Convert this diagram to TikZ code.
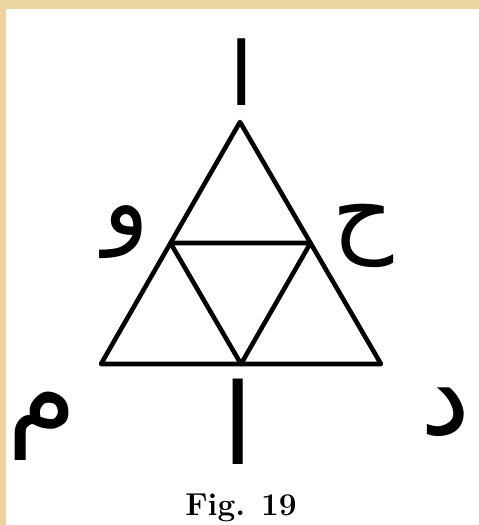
\documentclass[tikz,border=0pt]{standalone}
\usepackage{fontspec}
\newfontfamily\arabicfont[Script=Arabic]{DejaVu Sans}
\TeXXeTstate=1
\usetikzlibrary{positioning,calc}
\definecolor{paper}{RGB}{236,212,160}

\begin{document}
\begin{tikzpicture}[x=0.02cm, y=-0.02cm, line width=2.6pt, line join=round,
  letter/.style={font=\arabicfont\fontsize{54}{56}\selectfont, inner sep=0pt},
  bigletter/.style={font=\arabicfont\fontsize{64}{66}\selectfont, inner sep=0pt}]
  \useasboundingbox (0,0) rectangle (479,525);
  %% ── Page edge ──────────────────────────────
  \fill[paper] (0,0) rectangle (479,9);
  \fill[paper] (0,0) rectangle (6,525);

  %% ── Triangle and inner triangle ───────────
  \coordinate (apex) at (240,122);
  \coordinate (baseL) at (101,364);
  \coordinate (baseR) at (381,364);
  \coordinate (midL) at ($(apex)!0.5!(baseL)$);
  \coordinate (midR) at ($(apex)!0.5!(baseR)$);
  \coordinate (midB) at ($(baseL)!0.5!(baseR)$);
  \draw (apex) -- (baseL) -- (baseR) -- cycle;
  \draw (midL) -- (midR) -- (midB) -- cycle;

  %% ── Letters ───────────────────────────────
  \node[font=\arabicfont\fontsize{50}{52}\selectfont, inner sep=0pt] (alifTop) at (242,72) {\beginR ا\endR};
  \node[letter] (waw) at (126,232) {\beginR و\endR};
  \node[letter] (hah) at (363,236) {\beginR ح\endR};
  \node[bigletter] (alifBot) at (238,422) {\beginR ا\endR};
  \node[bigletter] (meem) at (42,426) {\beginR م\endR};
  \node[bigletter] (dal) at (446,412) {\beginR د\endR};

  %% ── Caption ───────────────────────────────
  \node[font=\fontsize{18}{21}\selectfont\bfseries] (caption) at (241,508) {Fig. 19};
\end{tikzpicture}
\end{document}
